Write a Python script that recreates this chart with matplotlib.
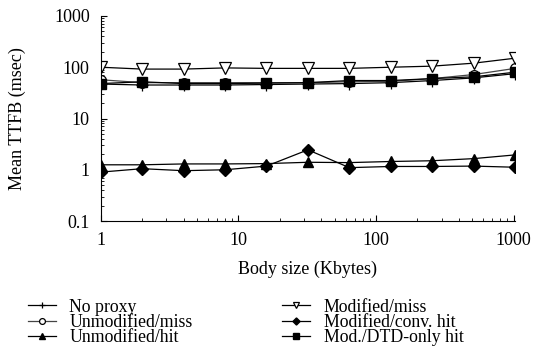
import matplotlib
matplotlib.use("Agg")
import matplotlib.pyplot as plt
from matplotlib.ticker import LogLocator, FixedLocator, NullFormatter

plt.rcParams['font.family'] = ['Liberation Serif', 'DejaVu Serif']
plt.rcParams['mathtext.fontset'] = 'stix'

sizes = [1, 2, 4, 8, 16, 32, 64, 128, 256, 512, 1024]
no_proxy = [47, 45, 45, 45, 46, 47, 48, 50, 55, 62, 75]
unmod_miss = [57, 50, 50, 50, 50, 50, 52, 53, 60, 72, 95]
unmod_hit = [1.25, 1.25, 1.3, 1.3, 1.32, 1.4, 1.38, 1.45, 1.5, 1.65, 1.95]
mod_miss = [100, 92, 92, 97, 95, 95, 95, 100, 105, 120, 150]
mod_conv_hit = [0.9, 1.05, 0.96, 1.0, 1.18, 2.45, 1.1, 1.16, 1.16, 1.18, 1.12]
mod_dtd_hit = [48, 52, 48, 48, 49, 50, 55, 55, 60, 65, 80]

fig = plt.figure(figsize=(5.36, 3.47), dpi=100)
ax = fig.add_axes([0.188, 0.363, 0.773, 0.591])

fs = 13
h1, = ax.plot(sizes, no_proxy, color='black', lw=0.9, marker='+', ms=8, mew=0.9, label='No proxy')
h2, = ax.plot(sizes, unmod_miss, color='#444444', lw=0.9, marker='o', ms=7, mfc='white', mec='black', mew=0.9, label='Unmodified/miss')
h3, = ax.plot(sizes, unmod_hit, color='black', lw=0.9, marker='^', ms=7, mfc='black', mec='black', label='Unmodified/hit')
h4, = ax.plot(sizes, mod_miss, color='black', lw=0.9, marker='v', ms=8, mfc='white', mec='black', mew=0.9, label='Modified/miss')
h5, = ax.plot(sizes, mod_conv_hit, color='black', lw=0.9, marker='D', ms=6, mfc='black', mec='black', label='Modified/conv. hit')
h6, = ax.plot(sizes, mod_dtd_hit, color='black', lw=0.9, marker='s', ms=7.5, mfc='black', mec='black', label='Mod./DTD-only hit')

ax.set_xscale('log')
ax.set_yscale('log')
ax.set_xlim(1, 1024)
ax.set_ylim(0.1, 1000)
for s in ['top', 'right']:
    ax.spines[s].set_visible(False)
ax.spines['left'].set_linewidth(0.8)
ax.spines['bottom'].set_linewidth(0.8)

ax.xaxis.set_major_locator(FixedLocator([1, 10, 100, 1000]))
ax.set_xticklabels(['1', '10', '100', '1000'])
ax.yaxis.set_major_locator(FixedLocator([0.1, 1, 10, 100, 1000]))
ax.set_yticklabels(['0.1', '1', '10', '100', '1000'])
ax.xaxis.set_minor_locator(LogLocator(base=10, subs=range(2, 10)))
ax.yaxis.set_minor_locator(LogLocator(base=10, subs=range(2, 10)))
ax.xaxis.set_minor_formatter(NullFormatter())
ax.yaxis.set_minor_formatter(NullFormatter())
ax.tick_params(which='major', direction='in', length=4, width=0.8, labelsize=fs, pad=8)
ax.tick_params(which='minor', direction='in', length=2, width=0.6)

ax.set_xlabel('Body size (Kbytes)', fontsize=fs, labelpad=8)
ax.set_ylabel('Mean TTFB (msec)', fontsize=fs, labelpad=20)

fig.legend(handles=[h1, h2, h3, h4, h5, h6], loc='upper left', bbox_to_anchor=(0.035, 0.165),
           ncol=2, frameon=False, fontsize=12.75, handlelength=1.6, handletextpad=0.75,
           labelspacing=-0.1, columnspacing=5.05, borderpad=0, markerscale=0.6)

fig.savefig('out.png', dpi=100)
